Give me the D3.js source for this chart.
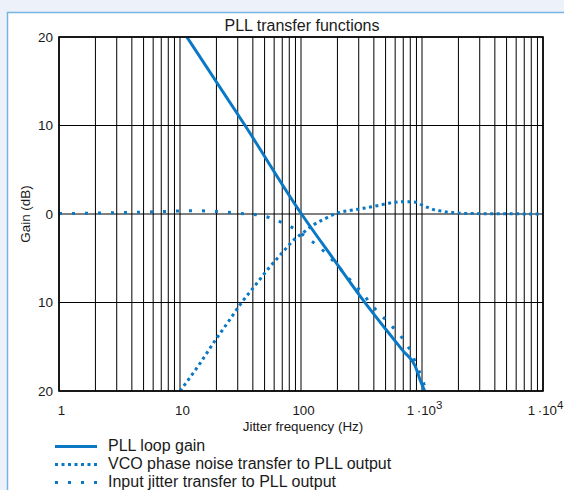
<!DOCTYPE html>
<html>
<head>
<meta charset="utf-8">
<script src="https://cdn.jsdelivr.net/npm/d3@7"></script>
<style>
  html, body { margin: 0; padding: 0; background: #edf1f9; }
  svg { display: block; font-family: "Liberation Sans", Arial, sans-serif; }
</style>
</head>
<body>
<svg id="chart" width="564" height="490"></svg>
<script>
// Open-loop gain of the PLL (dB) versus jitter frequency (Hz)
const loopFreq = [11.4, 34.5, 101, 195, 333, 500, 700, 880, 962, 1060];
const loopGain = [20, 10, 0, -5.5, -9.9, -13.0, -15.5, -17.2, -18.7, -20.1];

// VCO phase noise transfer to the PLL output (high-pass)
const vcoFreq = [10, 14.6, 19.5, 25.9, 32.3, 41.1, 52.1, 61, 72.4, 85.4, 104.5, 126.4, 160, 197,
                 259, 327, 427, 544, 700, 796, 903, 995, 1128, 1280, 1455, 1649, 1874, 2128, 3000, 5000, 10000];
const vcoGain = [-20, -16.9, -14.3, -11.9, -10.0, -8.2, -6.4, -5.3, -4.15, -3.05, -2.1, -1.24, -0.49, 0.08,
                 0.42, 0.64, 0.94, 1.24, 1.39, 1.39, 1.32, 1.02, 0.71, 0.45, 0.32, 0.2, 0.14, 0.08, 0.04, 0.02, 0.01];

// Input jitter transfer to the PLL output (low-pass)
const inFreq = [1, 2, 4, 7, 10, 13, 17, 22, 28, 34.7, 44.3, 57.2, 71.4, 90, 110, 135, 163, 191, 227,
                270, 323, 377, 443, 531, 630, 738, 832, 910, 1013, 1080];
const inGain = [0.05, 0.1, 0.18, 0.27, 0.34, 0.37, 0.33, 0.25, 0.12, 0.0, -0.12, -0.49, -1.05, -1.73, -2.62, -3.5, -4.52, -5.54, -6.67,
                -7.83, -8.96, -10.17, -11.2, -12.3, -13.4, -14.6, -15.9, -17.3, -18.7, -20.2];

const yTicks = [20, 10, 0, -10, -20];
const yTickLabels = ["20", "10", "0", "10", "20"];
const xTicks = [1, 10, 100, 1000, 10000];
const xTickBase = ["1", "10", "100", "1\u2009\u00b710", "1\u2009\u00b710"];
const xTickSup = ["", "", "", "3", "4"];

const seriesNames = ["PLL loop gain", "VCO phase noise transfer to PLL output", "Input jitter transfer to PLL output"];
const seriesDash = [null, "3,3.5", "3,10"];

const chartTitle = "PLL transfer functions";
const xTitle = "Jitter frequency (Hz)";
const yTitle = "Gain (dB)";

const blue = "#0a78c4";
const ink = "#1a1a1a";

const svg = d3.select("#chart");

// white panel with a light-blue edge
svg.append("rect")
  .attr("x", 7.5).attr("y", 12.5)
  .attr("width", 700).attr("height", 700)
  .attr("fill", "#ffffff")
  .attr("stroke", "#78b4e0")
  .attr("stroke-width", 1.5);

const plotLeft = 59, plotRight = 543, plotTop = 37, plotBottom = 391;
const x = d3.scaleLog().domain([1, 10000]).range([plotLeft, plotRight]);
const y = d3.scaleLinear().domain([-20, 20]).range([plotBottom, plotTop]);

// grid
const grid = svg.append("g");
grid.selectAll("line.v")
  .data(x.ticks())
  .join("line")
  .attr("class", "v")
  .attr("x1", d => x(d)).attr("x2", d => x(d))
  .attr("y1", plotTop).attr("y2", plotBottom)
  .attr("stroke", "#000").attr("stroke-width", 1);
grid.selectAll("line.h")
  .data(yTicks)
  .join("line")
  .attr("class", "h")
  .attr("x1", plotLeft).attr("x2", plotRight)
  .attr("y1", d => y(d)).attr("y2", d => y(d))
  .attr("stroke", "#000").attr("stroke-width", 1);

// clip for curves
svg.append("clipPath").attr("id", "plotClip")
  .append("rect")
  .attr("x", plotLeft).attr("y", plotTop)
  .attr("width", plotRight - plotLeft).attr("height", plotBottom - plotTop);

const line = d3.line()
  .x(d => x(d[0]))
  .y(d => y(d[1]))
  .curve(d3.curveMonotoneX);

const series = [
  d3.zip(loopFreq, loopGain),
  d3.zip(vcoFreq, vcoGain),
  d3.zip(inFreq, inGain)
];

const curves = svg.append("g").attr("clip-path", "url(#plotClip)");
curves.selectAll("path")
  .data(series)
  .join("path")
  .attr("d", d => line(d))
  .attr("fill", "none")
  .attr("stroke", blue)
  .attr("stroke-width", 3)
  .attr("stroke-linecap", "butt")
  .attr("stroke-dasharray", (d, i) => seriesDash[i]);

// frame
svg.append("rect")
  .attr("x", plotLeft).attr("y", plotTop)
  .attr("width", plotRight - plotLeft).attr("height", plotBottom - plotTop)
  .attr("fill", "none")
  .attr("stroke", "#000")
  .attr("stroke-width", 1.6);

// y axis
const yAxis = d3.axisLeft(y)
  .tickValues(yTicks)
  .tickFormat((d, i) => yTickLabels[i])
  .tickSize(0)
  .tickPadding(6);
const gy = svg.append("g").attr("transform", `translate(${plotLeft},0)`).call(yAxis);
gy.select(".domain").remove();
gy.selectAll("text")
  .attr("fill", ink)
  .style("font-size", "13.5px")
  .style("font-family", "'Liberation Sans', Arial, sans-serif");

// x axis
const xAxis = d3.axisBottom(x)
  .tickValues(xTicks)
  .tickSize(0)
  .tickPadding(14.5)
  .tickFormat(() => "");
const gx = svg.append("g").attr("transform", `translate(0,${plotBottom})`).call(xAxis);
gx.select(".domain").remove();
gx.selectAll("text")
  .attr("fill", ink)
  .attr("dx", 2)
  .style("font-size", "13.3px")
  .style("font-family", "'Liberation Sans', Arial, sans-serif")
  .each(function(d, i) {
    const t = d3.select(this);
    t.append("tspan").text(xTickBase[i]);
    if (xTickSup[i]) {
      t.append("tspan")
        .attr("dy", "-0.55em")
        .style("font-size", "11.5px")
        .text(xTickSup[i]);
    }
  });

// titles
svg.append("text")
  .attr("x", 302).attr("y", 30.5)
  .attr("text-anchor", "middle")
  .attr("fill", ink)
  .style("font-size", "16px")
  .text(chartTitle);

svg.append("text")
  .attr("x", 303).attr("y", 431)
  .attr("text-anchor", "middle")
  .attr("fill", ink)
  .style("font-size", "13.4px")
  .text(xTitle);

svg.append("text")
  .attr("transform", "translate(30,214) rotate(-90)")
  .attr("text-anchor", "middle")
  .attr("fill", ink)
  .style("font-size", "13.4px")
  .text(yTitle);

// legend
const legend = svg.append("g");
const rows = legend.selectAll("g")
  .data(seriesNames)
  .join("g")
  .attr("transform", (d, i) => `translate(0,${451 + i * 18})`);
rows.append("line")
  .attr("x1", 55).attr("x2", 97)
  .attr("y1", -4.5).attr("y2", -4.5)
  .attr("stroke", blue)
  .attr("stroke-width", 3)
  .attr("stroke-dasharray", (d, i) => seriesDash[i]);
rows.append("text")
  .attr("x", 108).attr("y", 0)
  .attr("fill", ink)
  .style("font-size", "16px")
  .text(d => d);
</script>
</body>
</html>
